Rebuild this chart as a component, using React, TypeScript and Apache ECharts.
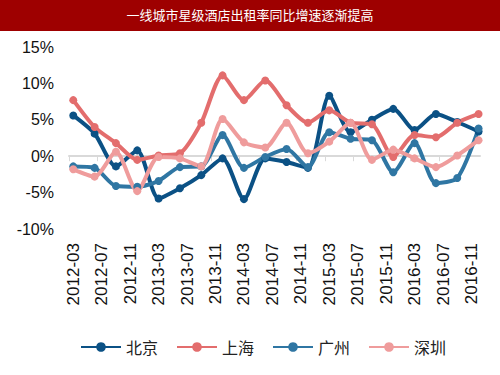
import React, { useEffect, useRef } from "react";
import * as echarts from "echarts";

// Quarterly observations (month of year), x positions derived from the dates
const dates = [
  "2012-03", "2012-06", "2012-09", "2012-12",
  "2013-03", "2013-06", "2013-09", "2013-12",
  "2014-03", "2014-06", "2014-09", "2014-12",
  "2015-03", "2015-06", "2015-09", "2015-12",
  "2016-03", "2016-06", "2016-09", "2016-12",
];
const beijing = [5.6, 3.1, -1.4, 0.8, -5.8, -4.4, -2.6, -0.3, -5.9, -0.3, -0.8, -1.6, 8.3, 3.3, 5.0, 6.5, 3.6, 5.8, 4.7, 3.4];
const shanghai = [7.7, 4.0, 1.8, -0.5, 0.1, 0.4, 4.6, 11.1, 7.7, 10.4, 7.0, 4.6, 6.3, 4.6, 4.4, -0.1, 2.9, 2.6, 4.6, 5.8];
const guangzhou = [-1.4, -1.6, -4.1, -4.2, -3.4, -1.5, -1.4, 2.9, -1.6, -0.1, 1.0, -1.5, 3.3, 2.4, 2.2, -2.2, 1.8, -3.7, -3.0, 3.8];
const shenzhen = [-1.8, -2.8, 0.6, -4.8, -0.1, -0.3, -1.4, 5.1, 1.9, 1.2, 4.6, 0.4, 2.0, 4.6, -0.5, 0.9, -0.3, -1.5, 0.1, 2.2];

const seriesNames = ["北京", "上海", "广州", "深圳"];
const seriesColors = ["#0b5185", "#e36d6d", "#2f76a3", "#ef9c9c"];
const tickLabels = [
  "2012-03", "2012-07", "2012-11", "2013-03", "2013-07", "2013-11", "2014-03", "2014-07",
  "2014-11", "2015-03", "2015-07", "2015-11", "2016-03", "2016-07", "2016-11",
];
const title = "一线城市星级酒店出租率同比增速逐渐提高";

const monthIndex = (d: string) => {
  const [y, m] = d.split("-").map(Number);
  return (y - 2012) * 12 + (m - 3);
};
const labelPositions = tickLabels.map(monthIndex);
const labelByPos: Record<string, string> = {};
tickLabels.forEach((t) => (labelByPos[String(monthIndex(t))] = t));

export default function App() {
  const ref = useRef<HTMLDivElement>(null);
  useEffect(() => {
    if (!ref.current) return;
    const chart = echarts.init(ref.current, null, { renderer: "svg" });
    const allData = [beijing, shanghai, guangzhou, shenzhen];
    const xMin = -0.6;
    const xMax = 57.2;
    chart.setOption({
      animation: false,
      backgroundColor: "#ffffff",
      graphic: [
        { type: "rect", left: 0, top: 0, shape: { width: 500, height: 31 }, style: { fill: "#9e0000" }, z: 0 },
        {
          type: "text",
          left: "center",
          top: 8,
          style: {
            text: title,
            fill: "#ffffff",
            font: '13px "Noto Sans CJK SC", sans-serif',
          },
          z: 1,
        },
      ],
      legend: {
        left: 75,
        top: 334,
        itemWidth: 40,
        itemHeight: 12,
        itemGap: 18,
        data: seriesNames,
        textStyle: { fontFamily: '"Noto Sans CJK SC", sans-serif', fontSize: 16, color: "#222" },
      },
      grid: { left: 69, right: 20, top: 47, bottom: 146, containLabel: false },
      xAxis: [
        {
          type: "value",
          min: xMin,
          max: xMax,
          position: "bottom",
          axisLine: { show: false, onZero: false },
          axisTick: { show: false },
          splitLine: { show: false },
          axisLabel: {
            customValues: labelPositions,
            rotate: 90,
            margin: 14,
            fontFamily: "Liberation Sans, Arial, sans-serif",
            fontSize: 17,
            color: "#111",
            formatter: (v: number) => labelByPos[String(Math.round(v))] || "",
          },
        },
        {
          type: "value",
          min: xMin,
          max: xMax,
          position: "bottom",
          axisLine: { show: true, onZero: true, lineStyle: { color: "#d9d9d9", width: 2 } },
          axisTick: {
            show: true,
            length: 5,
            customValues: labelPositions.map((p) => p - 0.6),
            lineStyle: { color: "#d9d9d9", width: 1 },
          },
          axisLabel: { show: false },
          splitLine: { show: false },
        },
      ],
      yAxis: {
        type: "value",
        min: -10,
        max: 15,
        interval: 5,
        axisLine: { show: false },
        axisTick: { show: false },
        splitLine: { show: false },
        axisLabel: {
          margin: 15,
          fontFamily: "Liberation Sans, Arial, sans-serif",
          fontSize: 16,
          color: "#111",
          formatter: (v: number) => `${v}%`,
        },
      },
      series: seriesNames.map((name, i) => ({
        name,
        type: "line",
        xAxisIndex: 0,
        smooth: 0.25,
        symbol: "circle",
        symbolSize: 8,
        lineStyle: { width: 4, color: seriesColors[i] },
        itemStyle: { color: seriesColors[i] },
        data: dates.map((d, j) => [monthIndex(d), allData[i][j]]),
      })),
    });
    return () => chart.dispose();
  }, []);
  return <div ref={ref} style={{ position: "absolute", left: 0, top: 0, width: 500, height: 375 }} />;
}
